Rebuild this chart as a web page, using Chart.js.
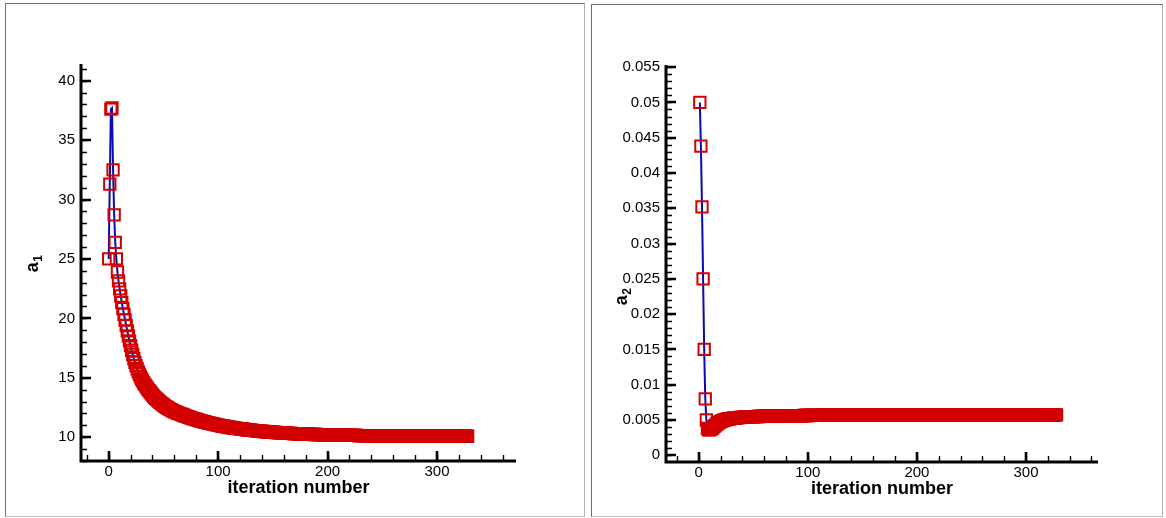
<!DOCTYPE html>
<html>
<head>
<meta charset="utf-8">
<script src="https://cdn.jsdelivr.net/npm/chart.js@4.4.1/dist/chart.umd.min.js"></script>
<style>
  html, body { margin: 0; padding: 0; background: #fff; }
  .panel { position: absolute; box-sizing: border-box; border: 1px solid #6e6e6e; border-right-color: #b4b4b4; border-bottom-color: #bcbcbc; }
  #p1 { left: 5px; top: 3px; width: 580px; height: 514px; }
  #p2 { left: 591px; top: 4px; width: 572px; height: 513px; }
  canvas { display: block; }
</style>
</head>
<body>
<div class="panel" id="p1"><canvas id="c1" width="578" height="512"></canvas></div>
<div class="panel" id="p2"><canvas id="c2" width="570" height="511"></canvas></div>
<script>
/* convergence of a1 / a2 vs iteration number (two tecplot-style panels) */

// a1, iterations start at 0
const a1Start = 0;
const a1Values = [
  25.0, 31.3, 37.6, 37.7, 32.5, 28.7, 26.4, 25.0, 23.9, 23.15,
  22.48, 21.88, 21.33, 20.82, 20.33, 19.86, 19.4, 18.95, 18.52, 18.1,
  17.7, 17.32, 16.96, 16.62, 16.3, 16.02, 15.76, 15.52, 15.3, 15.09,
  14.9, 14.74, 14.58, 14.44, 14.30, 14.16, 14.03, 13.91, 13.79, 13.68,
  13.57, 13.46, 13.36, 13.27, 13.18, 13.09, 13.01, 12.93, 12.85, 12.78,
  12.71, 12.64, 12.58, 12.52, 12.46, 12.40, 12.35, 12.30, 12.25, 12.20,
  12.16, 12.12, 12.08, 12.04, 12.0, 11.97, 11.94, 11.91, 11.87, 11.83,
  11.80, 11.77, 11.73, 11.70, 11.67, 11.63, 11.60, 11.57, 11.54, 11.51,
  11.49, 11.46, 11.43, 11.40, 11.38, 11.35, 11.33, 11.30, 11.28, 11.25,
  11.23, 11.21, 11.18, 11.16, 11.14, 11.12, 11.10, 11.08, 11.06, 11.04,
  11.02, 11.00, 10.98, 10.96, 10.95, 10.93, 10.91, 10.90, 10.88, 10.86,
  10.85, 10.83, 10.82, 10.80, 10.79, 10.77, 10.76, 10.75, 10.73, 10.72,
  10.71, 10.69, 10.68, 10.67, 10.66, 10.65, 10.63, 10.62, 10.61, 10.60,
  10.59, 10.58, 10.57, 10.56, 10.55, 10.54, 10.53, 10.52, 10.51, 10.51,
  10.50, 10.49, 10.48, 10.47, 10.46, 10.46, 10.45, 10.44, 10.43, 10.43,
  10.42, 10.41, 10.41, 10.40, 10.39, 10.39, 10.38, 10.37, 10.37, 10.36,
  10.36, 10.35, 10.34, 10.34, 10.33, 10.33, 10.32, 10.32, 10.31, 10.31,
  10.30, 10.30, 10.30, 10.29, 10.29, 10.28, 10.28, 10.27, 10.27, 10.27,
  10.26, 10.26, 10.25, 10.25, 10.25, 10.24, 10.24, 10.24, 10.23, 10.23,
  10.23, 10.22, 10.22, 10.22, 10.22, 10.21, 10.21, 10.21, 10.20, 10.20,
  10.20, 10.20, 10.19, 10.19, 10.19, 10.19, 10.18, 10.18, 10.18, 10.18,
  10.18, 10.17, 10.17, 10.17, 10.17, 10.17, 10.16, 10.16, 10.16, 10.16,
  10.16, 10.15, 10.15, 10.15, 10.15, 10.15, 10.15, 10.15, 10.14, 10.14,
  10.14, 10.14, 10.14, 10.14, 10.14, 10.13, 10.13, 10.13, 10.13, 10.13,
  10.13, 10.13, 10.12, 10.12, 10.12, 10.12, 10.12, 10.12, 10.12, 10.12,
  10.12, 10.11, 10.11, 10.11, 10.11, 10.11, 10.11, 10.11, 10.11, 10.11,
  10.11, 10.11, 10.11, 10.11, 10.11, 10.10, 10.10, 10.10, 10.10, 10.10,
  10.10, 10.10, 10.10, 10.10, 10.10, 10.10, 10.10, 10.10, 10.10, 10.10,
  10.09, 10.09, 10.09, 10.09, 10.09, 10.09, 10.09, 10.09, 10.09, 10.09,
  10.09, 10.09, 10.09, 10.09, 10.09, 10.09, 10.09, 10.09, 10.09, 10.09,
  10.09, 10.09, 10.09, 10.09, 10.09, 10.09, 10.09, 10.09, 10.09, 10.09,
  10.08, 10.08, 10.08, 10.08, 10.08, 10.08, 10.08, 10.08, 10.08, 10.08,
  10.08, 10.08, 10.08, 10.08, 10.08, 10.08, 10.08, 10.08, 10.08
];

// a2, iterations start at 1
const a2Start = 1;
const a2Values = [
  0.05, 0.0438, 0.0352, 0.025, 0.015, 0.008, 0.005, 0.0038, 0.0036, 0.0036,
  0.0037, 0.0038, 0.0039, 0.0041, 0.0042, 0.0044, 0.0045, 0.0046, 0.0047, 0.00478,
  0.00486, 0.00492, 0.00498, 0.00503, 0.00507, 0.00511, 0.00514, 0.00517, 0.0052, 0.00522,
  0.00524, 0.00526, 0.00528, 0.0053, 0.00532, 0.00533, 0.00535, 0.00536, 0.00537, 0.00538,
  0.00539, 0.0054, 0.00541, 0.00542, 0.00543, 0.00544, 0.00545, 0.00545, 0.00546, 0.00547,
  0.00548, 0.00548, 0.00549, 0.0055, 0.0055, 0.00551, 0.00551, 0.00552, 0.00552, 0.00553,
  0.00553, 0.00554, 0.00554, 0.00555, 0.00555, 0.00556, 0.00556, 0.00556, 0.00557, 0.00557,
  0.00557, 0.00558, 0.00558, 0.00558, 0.00559, 0.00559, 0.00559, 0.0056, 0.0056, 0.0056,
  0.00561, 0.00561, 0.00561, 0.00561, 0.00561, 0.00562, 0.00562, 0.00562, 0.00562, 0.00562,
  0.00563, 0.00563, 0.00563, 0.00563, 0.00563, 0.00564, 0.00564, 0.00564, 0.00564, 0.00564,
  0.00565, 0.00565, 0.00565, 0.00565, 0.00565, 0.00565, 0.00565, 0.00565, 0.00566, 0.00566,
  0.00566, 0.00566, 0.00566, 0.00566, 0.00566, 0.00566, 0.00567, 0.00567, 0.00567, 0.00567,
  0.00567, 0.00567, 0.00567, 0.00567, 0.00567, 0.00568, 0.00568, 0.00568, 0.00568, 0.00568,
  0.00568, 0.00568, 0.00568, 0.00568, 0.00568, 0.00568, 0.00568, 0.00568, 0.00568, 0.00568,
  0.00568, 0.00568, 0.00568, 0.00568, 0.00568, 0.00568, 0.00568, 0.00568, 0.00568, 0.00568,
  0.00569, 0.00569, 0.00569, 0.00569, 0.00569, 0.00569, 0.00569, 0.00569, 0.00569, 0.00569,
  0.00569, 0.00569, 0.00569, 0.00569, 0.00569, 0.00569, 0.00569, 0.00569, 0.00569, 0.00569,
  0.00569, 0.00569, 0.00569, 0.00569, 0.00569, 0.0057, 0.0057, 0.0057, 0.0057, 0.0057,
  0.0057, 0.0057, 0.0057, 0.0057, 0.0057, 0.0057, 0.0057, 0.0057, 0.0057, 0.0057,
  0.0057, 0.0057, 0.0057, 0.0057, 0.0057, 0.0057, 0.0057, 0.0057, 0.0057, 0.0057,
  0.00571, 0.00571, 0.00571, 0.00571, 0.00571, 0.00571, 0.00571, 0.00571, 0.00571, 0.00571,
  0.00571, 0.00571, 0.00571, 0.00571, 0.00571, 0.00571, 0.00571, 0.00571, 0.00571, 0.00571,
  0.00571, 0.00571, 0.00571, 0.00571, 0.00571, 0.00571, 0.00571, 0.00571, 0.00571, 0.00571,
  0.00571, 0.00571, 0.00571, 0.00571, 0.00571, 0.00571, 0.00571, 0.00571, 0.00571, 0.00571,
  0.00572, 0.00572, 0.00572, 0.00572, 0.00572, 0.00572, 0.00572, 0.00572, 0.00572, 0.00572,
  0.00572, 0.00572, 0.00572, 0.00572, 0.00572, 0.00572, 0.00572, 0.00572, 0.00572, 0.00572,
  0.00572, 0.00572, 0.00572, 0.00572, 0.00572, 0.00572, 0.00572, 0.00572, 0.00572, 0.00572,
  0.00572, 0.00572, 0.00572, 0.00572, 0.00572, 0.00572, 0.00572, 0.00572, 0.00572, 0.00572,
  0.00573, 0.00573, 0.00573, 0.00573, 0.00573, 0.00573, 0.00573, 0.00573, 0.00573, 0.00573,
  0.00573, 0.00573, 0.00573, 0.00573, 0.00573, 0.00573, 0.00573, 0.00573, 0.00573, 0.00573,
  0.00573, 0.00573, 0.00573, 0.00573, 0.00573, 0.00573, 0.00573, 0.00573, 0.00573, 0.00573,
  0.00573, 0.00573, 0.00573, 0.00573, 0.00573, 0.00573, 0.00573, 0.00573, 0.00573, 0.00573,
  0.00573, 0.00573, 0.00573, 0.00573, 0.00573, 0.00573, 0.00573, 0.00573
];

// tick labels
const iterTicks = [0, 100, 200, 300];
const a1Ticks = [10, 15, 20, 25, 30, 35, 40];
const a2Ticks = [0, 0.005, 0.01, 0.015, 0.02, 0.025, 0.03, 0.035, 0.04, 0.045, 0.05, 0.055];

const FONT = '"Liberation Sans", Arial, Helvetica, sans-serif';
const RED = '#d20000';
const BLUE = '#0a0ab0';

function pts(start, vals){
  return vals.map((v, i) => ({x: start + i, y: v}));
}
function fmt(v){ return String(Number(v.toPrecision(6))); }

// axis lines + inward major/minor ticks (tecplot look)
const frame = {
  id: 'frame',
  afterDatasetsDraw(chart, args, o){
    const {ctx, chartArea: a, scales: {x, y}} = chart;
    ctx.save();
    ctx.strokeStyle = '#000';
    ctx.lineCap = 'butt';
    // minor
    ctx.lineWidth = 1.4;
    ctx.beginPath();
    for (let k = Math.ceil(x.min / o.xMinor); k * o.xMinor <= x.max; k++){
      const px = Math.round(x.getPixelForValue(k * o.xMinor)) + 0.5;
      ctx.moveTo(px, a.bottom); ctx.lineTo(px, a.bottom - 6);
    }
    for (let k = Math.ceil(y.min / o.yMinor - 1e-9); k * o.yMinor <= y.max + 1e-12; k++){
      const py = Math.round(y.getPixelForValue(k * o.yMinor)) + 0.5;
      ctx.moveTo(a.left, py); ctx.lineTo(a.left + 6, py);
    }
    ctx.stroke();
    // major
    ctx.lineWidth = 2.6;
    ctx.beginPath();
    x.ticks.forEach(t => {
      const px = Math.round(x.getPixelForValue(t.value));
      ctx.moveTo(px, a.bottom); ctx.lineTo(px, a.bottom - 10);
    });
    y.ticks.forEach(t => {
      const py = Math.round(y.getPixelForValue(t.value));
      ctx.moveTo(a.left, py); ctx.lineTo(a.left + 10, py);
    });
    ctx.stroke();
    // axis lines
    ctx.lineWidth = 3;
    ctx.beginPath();
    ctx.moveTo(a.left, a.top); ctx.lineTo(a.left, a.bottom + 1.5);
    ctx.moveTo(a.left - 1.5, a.bottom); ctx.lineTo(a.right, a.bottom);
    ctx.stroke();
    ctx.restore();
  }
};

// y title with subscript
const yTitle = {
  id: 'yTitle',
  afterDraw(chart, args, o){
    const ctx = chart.ctx;
    ctx.save();
    ctx.translate(o.x, o.y);
    ctx.rotate(-Math.PI / 2);
    ctx.fillStyle = '#000';
    ctx.textBaseline = 'alphabetic';
    ctx.textAlign = 'left';
    const f1 = 'bold 18px ' + FONT, f2 = 'bold 12px ' + FONT;
    ctx.font = f1; const w1 = ctx.measureText(o.text).width;
    ctx.font = f2; const w2 = ctx.measureText(o.sub).width;
    const x0 = -(w1 + w2) / 2;
    ctx.font = f1; ctx.fillText(o.text, x0, 4.5);
    ctx.font = f2; ctx.fillText(o.sub, x0 + w1 + 0.5, 9);
    ctx.restore();
  }
};

function makeChart(id, cfg){
  const tickFont = {family: FONT, size: 15};
  return new Chart(document.getElementById(id), {
    type: 'scatter',
    data: {
      datasets: [{
        data: pts(cfg.start, cfg.values),
        showLine: true,
        borderColor: BLUE,
        borderWidth: 2,
        tension: 0,
        pointStyle: 'rect',
        pointRadius: 8,
        pointBorderWidth: 2,
        pointBorderColor: RED,
        pointBackgroundColor: 'rgba(0,0,0,0)',
        clip: false
      }]
    },
    options: {
      responsive: false,
      animation: false,
      events: [],
      layout: {padding: {top: 60, right: cfg.padRight, left: 0, bottom: 0}},
      plugins: {
        legend: {display: false},
        tooltip: {enabled: false},
        frame: {xMinor: 20, yMinor: cfg.yMinor},
        yTitle: {x: cfg.titleX, y: cfg.titleY, text: 'a', sub: cfg.sub}
      },
      scales: {
        x: {
          type: 'linear', position: 'bottom',
          min: cfg.xMin, max: cfg.xMax,
          grid: {display: false, drawTicks: false},
          border: {display: false},
          afterBuildTicks: s => { s.ticks = iterTicks.map(v => ({value: v})); },
          afterFit: s => { s.height = cfg.xH; },
          ticks: {font: tickFont, color: '#000', padding: 2, maxRotation: 0, autoSkip: false, callback: fmt},
          title: {display: true, text: 'iteration number', color: '#000',
                  font: {family: FONT, size: 18, weight: 'bold'},
                  padding: {top: 0, bottom: cfg.titlePad}}
        },
        y: {
          type: 'linear', position: 'left',
          min: cfg.yMin, max: cfg.yMax,
          grid: {display: false, drawTicks: false},
          border: {display: false},
          afterBuildTicks: s => { s.ticks = cfg.yTicks.map(v => ({value: v})); },
          afterFit: s => { s.width = cfg.yW; },
          ticks: {font: tickFont, color: '#000', padding: 6, autoSkip: false, callback: fmt}
        }
      }
    },
    plugins: [frame, yTitle]
  });
}

makeChart('c1', {
  start: a1Start, values: a1Values, yTicks: a1Ticks,
  xMin: -25.3, xMax: 372.2, yMin: 8.0, yMax: 41.4, yMinor: 1,
  yW: 75, xH: 55, padRight: 68, titlePad: 17, sub: '1',
  titleX: 27, titleY: 260
});

makeChart('c2', {
  start: a2Start, values: a2Values, yTicks: a2Ticks,
  xMin: -30, xMax: 366, yMin: -0.00095, yMax: 0.0553, yMinor: 0.001,
  yW: 74, xH: 54, padRight: 64, titlePad: 16, sub: '2',
  titleX: 30, titleY: 292
});
</script>
</body>
</html>
